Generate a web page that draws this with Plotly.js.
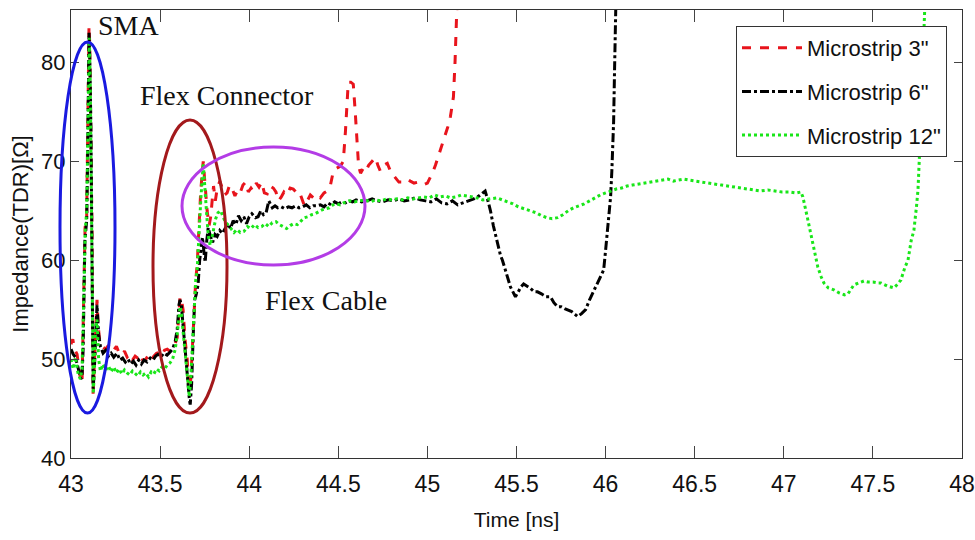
<!DOCTYPE html>
<html>
<head>
<meta charset="utf-8">
<script src="https://cdn.plot.ly/plotly-3.0.1.min.js"></script>
<style>html,body{margin:0;padding:0;background:#fff;}#chart{width:975px;height:540px;}</style>
</head>
<body>
<div id="chart"></div>
<script>
// ---- Data ----
const seriesNames = ['Microstrip 3"', 'Microstrip 6"', 'Microstrip 12"'];

const redX = [43.000,43.010,43.020,43.034,43.045,43.055,43.062,43.067,43.075,43.079,43.088,43.094,43.098,43.101,43.105,43.110,43.118,43.124,43.130,43.135,43.142,43.146,43.152,43.160,43.170,43.180,43.195,43.210,43.225,43.240,43.255,43.270,43.285,43.300,43.315,43.330,43.345,43.360,43.375,43.390,43.405,43.420,43.435,43.450,43.465,43.480,43.495,43.510,43.525,43.540,43.555,43.570,43.585,43.596,43.605,43.612,43.620,43.629,43.640,43.652,43.660,43.669,43.678,43.690,43.700,43.708,43.718,43.728,43.742,43.750,43.764,43.775,43.785,43.792,43.800,43.810,43.820,43.835,43.848,43.862,43.876,43.890,43.905,43.920,43.935,43.949,43.965,43.980,43.995,44.010,44.022,44.040,44.055,44.070,44.085,44.101,44.118,44.135,44.150,44.165,44.180,44.195,44.213,44.230,44.247,44.262,44.280,44.295,44.310,44.326,44.343,44.360,44.380,44.399,44.420,44.438,44.455,44.472,44.490,44.511,44.528,44.540,44.549,44.556,44.570,44.584,44.595,44.605,44.614,44.625,44.640,44.655,44.670,44.690,44.708,44.722,44.736,44.755,44.775,44.795,44.820,44.840,44.865,44.885,44.904,44.925,44.949,44.975,45.000,45.028,45.045,45.062,45.080,45.098,45.115,45.129,45.146,45.155,45.163,45.170];
const redY = [51.5,52.0,51.0,50.5,49.0,47.8,47.6,52.6,61.0,63.3,64.5,72.0,80.0,83.7,82.0,76.2,62.7,46.5,49.0,52.6,55.0,56.0,53.5,52.0,51.5,51.2,51.0,51.4,50.8,50.9,51.3,50.6,50.4,50.8,50.2,50.5,49.9,50.3,50.1,50.5,49.8,50.0,50.4,49.9,50.3,50.6,50.7,50.4,50.9,51.0,50.8,51.0,51.6,52.2,54.5,56.3,56.0,55.0,52.0,50.0,47.5,47.0,50.0,55.0,58.0,59.5,64.0,67.0,70.0,68.0,65.0,63.5,64.5,66.0,67.5,66.0,67.2,68.0,67.3,66.6,66.8,67.6,67.2,66.5,67.1,66.8,67.6,67.9,66.9,67.3,67.0,67.8,67.4,67.9,66.8,66.7,67.5,67.3,66.9,66.0,66.4,66.9,66.6,67.3,67.2,66.9,67.0,66.2,65.5,66.0,66.6,66.3,66.6,66.3,66.8,67.0,67.5,69.0,69.3,69.5,70.0,73.0,76.0,78.0,78.0,77.8,75.0,72.0,69.5,68.8,69.3,69.0,69.6,70.0,70.4,69.6,69.0,69.6,69.8,68.9,68.3,67.9,67.9,68.2,68.0,67.8,67.9,67.6,67.8,68.8,69.6,70.5,71.5,72.5,73.5,74.5,76.5,80.0,84.0,88.0];

const blackX = [43.000,43.012,43.025,43.040,43.055,43.062,43.068,43.078,43.088,43.094,43.098,43.101,43.106,43.112,43.118,43.124,43.130,43.136,43.146,43.155,43.165,43.180,43.195,43.210,43.225,43.240,43.258,43.275,43.290,43.305,43.320,43.335,43.350,43.365,43.380,43.395,43.410,43.427,43.445,43.460,43.475,43.490,43.505,43.520,43.539,43.555,43.570,43.585,43.596,43.606,43.612,43.620,43.630,43.645,43.655,43.665,43.669,43.677,43.685,43.694,43.702,43.713,43.722,43.730,43.738,43.745,43.753,43.762,43.770,43.781,43.795,43.808,43.820,43.835,43.850,43.865,43.880,43.895,43.910,43.925,43.940,43.955,43.970,43.985,44.000,44.015,44.035,44.050,44.065,44.080,44.095,44.110,44.120,44.130,44.145,44.160,44.180,44.200,44.220,44.240,44.260,44.280,44.300,44.320,44.340,44.360,44.380,44.400,44.420,44.440,44.460,44.480,44.500,44.520,44.540,44.560,44.580,44.600,44.630,44.660,44.690,44.720,44.750,44.780,44.810,44.840,44.870,44.900,44.930,44.960,44.990,45.020,45.050,45.080,45.110,45.140,45.170,45.200,45.230,45.260,45.290,45.310,45.324,45.337,45.354,45.370,45.393,45.410,45.421,45.440,45.466,45.480,45.494,45.510,45.525,45.540,45.551,45.575,45.600,45.618,45.640,45.665,45.691,45.710,45.730,45.750,45.770,45.787,45.810,45.830,45.843,45.865,45.888,45.910,45.935,45.955,45.975,45.989,46.000,46.011,46.020,46.028,46.035,46.039,46.045,46.050,46.056,46.062];
const blackY = [51.0,50.5,50.2,49.0,48.0,48.2,51.0,62.0,64.0,71.0,79.0,83.0,80.0,73.0,60.0,47.0,48.5,52.0,55.5,52.5,51.3,50.6,50.9,50.3,50.6,50.2,50.6,49.9,50.1,49.7,50.0,49.5,49.8,49.4,49.9,49.5,49.9,49.7,50.1,49.9,50.3,50.5,50.2,50.6,50.4,50.7,51.0,51.8,53.0,55.5,56.0,55.3,53.0,50.5,48.0,45.8,45.4,47.5,52.0,56.0,56.5,57.5,60.0,61.5,62.3,61.0,59.8,62.0,63.3,62.5,61.8,62.6,62.4,63.0,62.7,63.2,63.7,63.2,64.0,63.6,64.5,64.0,64.4,63.7,64.4,64.7,64.3,64.4,65.0,64.6,64.8,66.0,65.6,65.3,65.5,65.3,65.4,65.2,65.4,65.3,65.5,65.3,65.4,65.6,65.3,65.5,65.5,65.6,65.4,65.8,65.6,65.9,65.7,65.9,65.8,66.0,65.9,66.1,65.9,66.0,66.2,66.0,65.9,66.1,66.0,66.2,66.0,66.1,66.3,66.1,66.0,65.9,66.2,65.8,65.7,66.0,65.6,65.8,66.0,66.2,66.5,66.8,67.0,66.2,65.0,63.5,61.7,60.5,60.0,58.8,57.3,56.8,56.3,56.8,57.3,57.6,57.5,57.2,56.8,56.8,56.6,56.3,56.3,55.7,55.3,55.3,55.1,55.0,54.8,54.5,54.3,54.6,55.0,56.0,56.9,57.7,58.5,59.0,61.0,63.0,65.0,66.4,69.0,70.8,74.0,79.0,85.5,90.0];

const greenX = [43.000,43.012,43.025,43.040,43.052,43.062,43.070,43.080,43.088,43.094,43.099,43.103,43.108,43.114,43.120,43.125,43.130,43.138,43.146,43.155,43.165,43.180,43.195,43.210,43.225,43.240,43.255,43.270,43.285,43.300,43.315,43.330,43.345,43.360,43.375,43.390,43.405,43.420,43.435,43.450,43.465,43.480,43.495,43.510,43.525,43.540,43.555,43.570,43.585,43.596,43.605,43.612,43.620,43.630,43.642,43.655,43.664,43.672,43.682,43.692,43.700,43.708,43.718,43.728,43.742,43.750,43.760,43.770,43.781,43.790,43.800,43.812,43.825,43.840,43.855,43.870,43.885,43.900,43.915,43.930,43.950,43.970,43.990,44.010,44.030,44.050,44.070,44.090,44.110,44.130,44.150,44.170,44.190,44.210,44.230,44.250,44.270,44.290,44.310,44.330,44.350,44.370,44.390,44.410,44.430,44.450,44.470,44.490,44.510,44.530,44.560,44.590,44.620,44.650,44.680,44.710,44.740,44.770,44.800,44.830,44.860,44.890,44.920,44.950,44.980,45.010,45.040,45.070,45.100,45.130,45.160,45.190,45.220,45.250,45.280,45.310,45.340,45.390,45.420,45.450,45.480,45.510,45.540,45.580,45.610,45.640,45.670,45.700,45.730,45.760,45.790,45.820,45.850,45.880,45.910,45.940,45.970,46.000,46.030,46.060,46.090,46.120,46.150,46.180,46.210,46.250,46.290,46.320,46.350,46.380,46.410,46.440,46.470,46.500,46.534,46.570,46.610,46.650,46.690,46.719,46.750,46.790,46.830,46.870,46.910,46.950,46.990,47.030,47.070,47.096,47.107,47.130,47.152,47.170,47.191,47.210,47.225,47.250,47.281,47.310,47.340,47.360,47.380,47.393,47.420,47.450,47.472,47.500,47.530,47.545,47.580,47.618,47.640,47.657,47.680,47.697,47.715,47.730,47.745,47.753,47.760,47.771,47.781,47.792,47.800];
const greenY = [50.0,49.0,50.2,48.5,48.0,49.0,55.0,63.0,65.0,73.0,81.5,82.5,78.0,66.0,52.0,46.5,48.5,53.0,54.0,50.0,48.8,49.5,48.9,49.3,48.7,49.2,48.6,49.0,48.5,48.9,48.6,48.4,48.8,48.5,48.3,48.7,48.4,48.6,48.2,48.7,48.5,49.0,48.8,49.2,49.0,49.4,49.6,50.0,51.0,52.5,54.5,55.3,54.5,52.5,50.0,47.5,46.2,48.0,52.0,55.5,58.0,59.0,63.0,66.0,69.8,68.0,65.0,62.5,61.5,62.2,63.0,64.2,64.8,65.0,64.3,63.8,63.5,63.2,62.8,63.1,62.8,62.9,63.4,63.2,63.6,63.3,63.4,63.7,63.4,63.8,63.9,63.6,63.4,63.2,63.5,63.7,63.6,64.0,64.3,64.4,64.6,64.7,64.9,65.1,65.2,65.3,65.6,65.7,65.6,65.8,66.0,65.9,66.0,66.1,65.9,66.1,66.0,66.2,66.1,66.2,66.1,66.3,66.2,66.3,66.4,66.3,66.6,66.4,66.5,66.3,66.4,66.6,66.5,66.4,66.3,66.1,66.2,66.3,66.1,65.9,65.7,65.4,65.2,65.0,64.8,64.5,64.3,64.2,64.3,64.6,65.0,65.3,65.5,65.7,66.0,66.3,66.6,66.8,67.0,67.2,67.3,67.5,67.6,67.7,67.8,67.9,68.0,68.1,68.2,68.0,68.1,68.2,68.1,68.0,67.9,67.8,67.7,67.6,67.5,67.4,67.3,67.2,67.1,67.0,67.1,67.0,66.9,66.9,66.8,66.9,66.4,64.5,62.7,61.0,59.3,58.3,57.7,57.2,57.0,56.7,56.5,56.6,57.2,57.5,57.7,57.9,57.8,57.8,57.7,57.7,57.4,57.2,57.6,58.0,59.3,60.0,62.0,63.0,65.5,67.1,70.0,75.0,79.5,85.0,90.0];

const xTickVals = [43,43.5,44,44.5,45,45.5,46,46.5,47,47.5,48];
const yTickVals = [40,50,60,70,80];

// ---- Plot ----
const traces = [
  {x: redX, y: redY, name: seriesNames[0], legendgroup: 'a', mode: 'lines',
   line: {color: '#e8141c', width: 3, dash: 'dash'}},
  {x: blackX, y: blackY, name: seriesNames[1], legendgroup: 'b', mode: 'lines',
   line: {color: '#000000', width: 3, dash: 'dashdot'}},
  {x: greenX, y: greenY, name: seriesNames[2], legendgroup: 'c', mode: 'lines',
   line: {color: '#19e619', width: 3, dash: 'dot'}}
];

const PL = 71, PR = 962, PT = 10, PB = 458;
const px = v => (v - PL) / (PR - PL);
const py = v => (PB - v) / (PB - PT);

const serif = 'Liberation Serif, Times New Roman, serif';
const sans = 'Liberation Sans, Arial, sans-serif';

const layout = {
  width: 975, height: 540,
  margin: {l: PL, r: 975 - PR, t: PT, b: 540 - PB},
  paper_bgcolor: '#ffffff', plot_bgcolor: '#ffffff',
  showlegend: true,
  legend: {x: px(736), y: py(26), xanchor: 'left', yanchor: 'top',
    bgcolor: '#ffffff', bordercolor: '#333333', borderwidth: 1,
    font: {family: sans, size: 22, color: '#111'},
    itemwidth: 60,
    traceorder: 'grouped', tracegroupgap: 12},
  xaxis: {range: [43, 48], tickvals: xTickVals, ticktext: xTickVals.map(String),
    ticks: 'inside', ticklen: 12, tickcolor: '#444', tickwidth: 1,
    showline: true, linecolor: '#333', linewidth: 1, mirror: 'ticks',
    showgrid: false, zeroline: false, ticklabelstandoff: 5,
    tickfont: {family: sans, size: 23, color: '#111'},
    title: {text: 'Time [ns]', font: {family: sans, size: 21, color: '#111'}, standoff: 16}},
  yaxis: {range: [40, 85.3], tickvals: yTickVals, ticktext: yTickVals.map(String),
    ticks: 'inside', ticklen: 8, tickcolor: '#444', tickwidth: 1,
    showline: true, linecolor: '#333', linewidth: 1, mirror: 'ticks',
    showgrid: false, zeroline: false,
    tickfont: {family: sans, size: 22, color: '#111'},
    title: {text: 'Impedance(TDR)[Ω]', font: {family: sans, size: 22, color: '#111'}, standoff: 6}},
  shapes: [
    {type: 'circle', xref: 'paper', yref: 'paper', x0: px(60), x1: px(115), y0: py(413), y1: py(42),
     line: {color: '#1a1ae0', width: 3}},
    {type: 'circle', xref: 'paper', yref: 'paper', x0: px(153), x1: px(227), y0: py(413), y1: py(120),
     line: {color: '#a3191c', width: 3}},
    {type: 'circle', xref: 'paper', yref: 'paper', x0: px(182), x1: px(365), y0: py(265), y1: py(147),
     line: {color: '#b33ce6', width: 3}}
  ],
  annotations: [
    {text: 'SMA', xref: 'paper', yref: 'paper', x: px(96), y: py(25), xanchor: 'left', yanchor: 'middle',
     showarrow: false, font: {family: serif, size: 28, color: '#111'}},
    {text: 'Flex Connector', xref: 'paper', yref: 'paper', x: px(138), y: py(95), xanchor: 'left', yanchor: 'middle',
     showarrow: false, font: {family: serif, size: 28, color: '#111'}},
    {text: 'Flex Cable', xref: 'paper', yref: 'paper', x: px(263), y: py(300), xanchor: 'left', yanchor: 'middle',
     showarrow: false, font: {family: serif, size: 28, color: '#111'}}
  ]
};

Plotly.newPlot('chart', traces, layout, {displayModeBar: false, staticPlot: true});
</script>
</body>
</html>
